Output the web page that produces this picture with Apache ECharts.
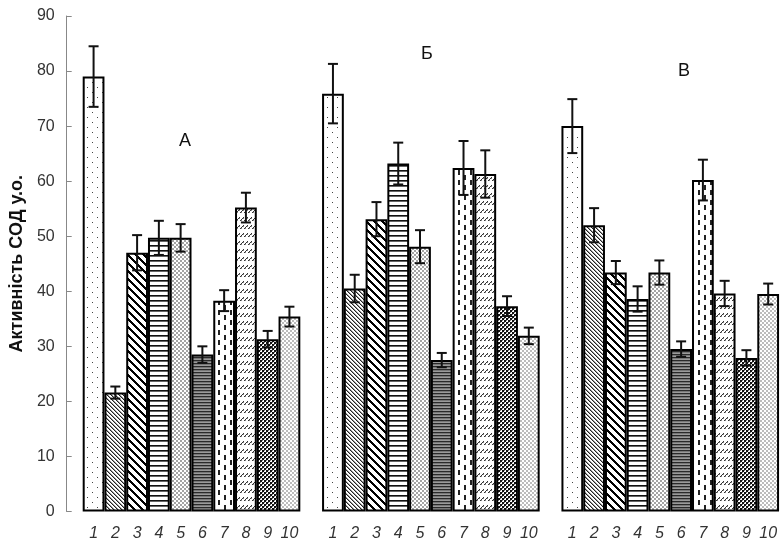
<!DOCTYPE html>
<html>
<head>
<meta charset="utf-8">
<script src="https://cdn.jsdelivr.net/npm/echarts@6/dist/echarts.min.js"></script>
<style>
  html, body { margin: 0; padding: 0; background: #fff; }
  #chart { width: 780px; height: 544px; }
</style>
</head>
<body>
<div id="chart"></div>
<script>
// Superoxide dismutase activity, three experimental groups, ten samples each
const groupNames = ['А', 'Б', 'В'];
const sampleLabels = ['1', '2', '3', '4', '5', '6', '7', '8', '9', '10'];

const valuesA = [79.0, 21.6, 47.0, 49.7, 49.7, 28.5, 38.3, 55.2, 31.3, 35.4];
const errorsA = [5.5, 1.1, 3.2, 3.1, 2.5, 1.5, 1.9, 2.7, 1.5, 1.8];

const valuesB = [75.9, 40.5, 53.1, 63.2, 48.1, 27.5, 62.4, 61.3, 37.3, 31.9];
const errorsB = [5.4, 2.5, 3.1, 3.8, 3.0, 1.3, 4.9, 4.3, 1.8, 1.5];

const valuesC = [70.0, 52.0, 43.4, 38.6, 43.4, 29.5, 60.2, 39.6, 27.9, 39.5];
const errorsC = [4.9, 3.1, 2.1, 2.3, 2.2, 1.4, 3.7, 2.3, 1.4, 1.9];

const yTicks = { min: 0, max: 90, interval: 10 };

// ---- hatch fills, one per sample ----
function tile(w, h, draw) {
  const c = document.createElement('canvas');
  c.width = w; c.height = h;
  const ctx = c.getContext('2d');
  ctx.fillStyle = '#fff';
  ctx.fillRect(0, 0, w, h);
  draw(ctx);
  return { image: c, repeat: 'repeat' };
}
function px(ctx, color, x, y, w, h) {
  ctx.fillStyle = color;
  ctx.fillRect(x, y, w || 1, h || 1);
}
const fills = [
  // 1: sparse dots
  tile(10, 10, ctx => { px(ctx, '#444', 2, 2); px(ctx, '#444', 7, 7); }),
  // 2: fine back-diagonal lines
  tile(4, 4, ctx => { for (let i = 0; i < 4; i++) { px(ctx, '#222', i, i); px(ctx, '#999', (i + 1) % 4, i); } }),
  // 3: wide back-diagonal stripes
  tile(8, 8, ctx => { for (let y = 0; y < 8; y++) for (let k = 0; k < 3; k++) px(ctx, '#000', (y + k) % 8, y); }),
  // 4: horizontal lines
  tile(4, 5, ctx => { px(ctx, '#111', 0, 0, 4, 1); px(ctx, '#666', 0, 1, 4, 1); }),
  // 5: fine grey dots
  tile(4, 4, ctx => { px(ctx, '#a4a4a4', 0, 0, 2, 2); px(ctx, '#a4a4a4', 2, 2, 2, 2); }),
  // 6: dark dense horizontal lines
  tile(4, 3, ctx => { px(ctx, '#2a2a2a', 0, 0, 4, 1); px(ctx, '#777', 0, 1, 4, 1); px(ctx, '#9a9a9a', 0, 2, 4, 1); }),
  // 7: staggered vertical dashes
  tile(12, 10, ctx => { px(ctx, '#222', 2, 0, 2, 5); px(ctx, '#222', 8, 5, 2, 5); }),
  // 8: rows of short forward slashes
  tile(4, 8, ctx => { px(ctx, '#333', 3, 1); px(ctx, '#333', 2, 2); px(ctx, '#333', 1, 3); px(ctx, '#333', 0, 4); px(ctx, '#888', 3, 2); px(ctx, '#888', 1, 4); }),
  // 9: dense dark confetti
  tile(4, 4, ctx => { px(ctx, '#111', 0, 0, 2, 2); px(ctx, '#111', 2, 2, 2, 2); px(ctx, '#777', 2, 0); px(ctx, '#777', 0, 2); }),
  // 10: light grey dots
  tile(4, 4, ctx => { px(ctx, '#bcbcbc', 0, 0, 2, 2); px(ctx, '#bcbcbc', 2, 2, 2, 2); })
];

// ---- categories: ten samples per group, one empty slot between groups ----
const groupValues = [valuesA, valuesB, valuesC];
const groupErrors = [errorsA, errorsB, errorsC];
const categories = [];
const barData = [];
const errorData = [];
groupNames.forEach((g, gi) => {
  if (gi > 0) { categories.push('gap' + gi); barData.push(null); }
  sampleLabels.forEach((s, si) => {
    const v = groupValues[gi][si];
    const e = groupErrors[gi][si];
    categories.push(g + '|' + s);
    barData.push({ value: v, itemStyle: { color: fills[si] } });
    errorData.push([categories.length - 1, v - e, v + e]);
  });
});

const chart = echarts.init(document.getElementById('chart'), null, { renderer: 'canvas' });
const font = '"Liberation Sans", Arial, sans-serif';

chart.setOption({
  animation: false,
  backgroundColor: '#fff',
  grid: { left: 81, top: 16, width: 701, height: 495.5 },
  xAxis: {
    type: 'category',
    data: categories,
    boundaryGap: true,
    axisLine: { show: false },
    axisTick: { show: false },
    axisLabel: {
      interval: 0,
      margin: 14,
      color: '#333',
      fontSize: 16,
      fontStyle: 'italic',
      fontFamily: font,
      formatter: v => (v.indexOf('|') >= 0 ? v.split('|')[1] : '')
    }
  },
  yAxis: {
    type: 'value',
    min: yTicks.min,
    max: yTicks.max,
    interval: yTicks.interval,
    offset: 16,
    name: 'Активність СОД у.о.',
    nameLocation: 'middle',
    nameGap: 38,
    nameTextStyle: { fontSize: 18, fontWeight: 'bold', color: '#111', fontFamily: font },
    axisLine: { show: true, lineStyle: { color: '#888', width: 1 } },
    axisTick: { show: true, inside: true, length: 5, lineStyle: { color: '#888' } },
    axisLabel: { margin: 12, color: '#333', fontSize: 16, fontFamily: font },
    splitLine: { show: false }
  },
  graphic: [
    { type: 'text', left: 179, top: 132, style: { text: 'А', font: '18px ' + font, fill: '#111' } },
    { type: 'text', left: 421, top: 45, style: { text: 'Б', font: '18px ' + font, fill: '#111' } },
    { type: 'text', left: 678, top: 62, style: { text: 'В', font: '18px ' + font, fill: '#111' } }
  ],
  series: [
    {
      type: 'bar',
      data: barData,
      barWidth: '100%',
      barCategoryGap: 0,
      itemStyle: { borderColor: '#000', borderWidth: 2 },
      z: 2
    },
    {
      type: 'custom',
      data: errorData,
      z: 3,
      renderItem: (params, api) => {
        const x = api.coord([api.value(0), 0])[0];
        const yLo = api.coord([api.value(0), api.value(1)])[1];
        const yHi = api.coord([api.value(0), api.value(2)])[1];
        const cap = 5;
        const st = { stroke: '#111', lineWidth: 2 };
        return {
          type: 'group',
          children: [
            { type: 'line', shape: { x1: x, y1: yLo, x2: x, y2: yHi }, style: st },
            { type: 'line', shape: { x1: x - cap, y1: yHi, x2: x + cap, y2: yHi }, style: st },
            { type: 'line', shape: { x1: x - cap, y1: yLo, x2: x + cap, y2: yLo }, style: st }
          ]
        };
      }
    }
  ]
});
</script>
</body>
</html>
